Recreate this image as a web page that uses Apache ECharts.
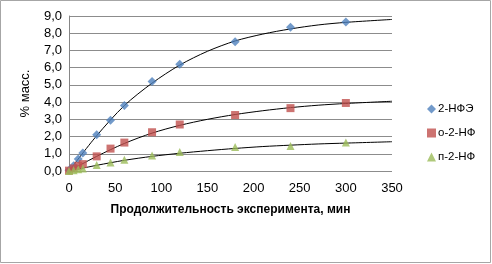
<!DOCTYPE html>
<html><head><meta charset="utf-8">
<script src="https://cdn.jsdelivr.net/npm/echarts@6/dist/echarts.min.js"></script>
<style>html,body{margin:0;padding:0;background:#fff}#c{width:492px;height:264px}</style>
</head><body><div id="c"></div>
<script>
const times = [0, 5, 10, 15, 30, 45, 60, 90, 120, 180, 240, 300];
const nfe = [0.05, 0.3, 0.7, 1.05, 2.1, 2.95, 3.8, 5.2, 6.2, 7.5, 8.35, 8.65];
const o2nf = [0.02, 0.15, 0.3, 0.4, 0.85, 1.3, 1.65, 2.25, 2.7, 3.25, 3.65, 3.95];
const p2nf = [0.0, 0.05, 0.1, 0.15, 0.35, 0.5, 0.65, 0.9, 1.1, 1.4, 1.45, 1.65];
const trendTimes = [0, 30, 60, 90, 120, 150, 180, 210, 240, 270, 300, 350];
const nfeTrend = [0.0, 2.05, 3.8, 5.1, 6.15, 6.95, 7.55, 7.95, 8.25, 8.48, 8.63, 8.8];
const o2nfTrend = [0.0, 0.85, 1.6, 2.2, 2.65, 3.0, 3.28, 3.5, 3.68, 3.82, 3.92, 4.05];
const p2nfTrend = [0.0, 0.33, 0.62, 0.85, 1.03, 1.18, 1.31, 1.42, 1.5, 1.57, 1.62, 1.7];
const names = ['2-НФЭ', 'о-2-НФ', 'п-2-НФ'];
const colors = ['#4F81BD', '#C0504D', '#9BBB59'];

const zip = (xs, ys) => xs.map((x, i) => [x, ys[i]]);
const font = 'Liberation Sans';
const chart = echarts.init(document.getElementById('c'));
const trendStyle = {type: 'line', smooth: 0.3, symbol: 'none', lineStyle: {color: '#000', width: 1}, silent: true, z: 1};
chart.setOption({
  animation: false,
  textStyle: {fontFamily: font},
  graphic: [{type: 'rect', shape: {x: 0.5, y: 0.5, width: 490, height: 262}, style: {fill: 'none', stroke: '#a6a6a6', lineWidth: 1}}],
  grid: {left: 69, right: 100, top: 16, bottom: 93},
  legend: {
    orient: 'vertical', left: 422, top: 98, itemGap: 12, itemWidth: 9, itemHeight: 9,
    data: names.map((n, i) => ({name: n, icon: ['diamond', 'rect', 'triangle'][i]})),
    textStyle: {fontSize: 11.5, color: '#000', fontFamily: font, padding: [0, 0, 0, -3]}
  },
  xAxis: {
    type: 'value', min: 0, max: 350, interval: 50,
    name: 'Продолжительность эксперимента, мин', nameLocation: 'middle', nameGap: 33,
    nameTextStyle: {fontWeight: 'bold', fontSize: 12, color: '#000', fontFamily: font},
    axisLine: {show: false}, axisTick: {show: false}, splitLine: {show: false},
    axisLabel: {fontSize: 13, color: '#000', margin: 11}
  },
  yAxis: {
    type: 'value', min: 0, max: 9, interval: 1,
    name: '% масс.', nameLocation: 'middle', nameGap: 37,
    nameTextStyle: {fontSize: 13, color: '#000', fontFamily: font},
    axisLine: {show: true, lineStyle: {color: '#868686'}}, axisTick: {show: false},
    splitLine: {lineStyle: {color: '#8c8c8c', width: 1}},
    axisLabel: {fontSize: 13, color: '#000', margin: 7, formatter: v => v.toFixed(1).replace('.', ',')}
  },
  series: [
    Object.assign({data: zip(trendTimes, nfeTrend)}, trendStyle),
    Object.assign({data: zip(trendTimes, o2nfTrend)}, trendStyle),
    Object.assign({data: zip(trendTimes, p2nfTrend)}, trendStyle),
    {name: names[0], type: 'scatter', symbol: 'diamond', symbolSize: 9, data: zip(times, nfe), itemStyle: {color: colors[0]}, z: 3},
    {name: names[1], type: 'scatter', symbol: 'rect', symbolSize: 8, data: zip(times, o2nf), itemStyle: {color: colors[1]}, z: 3},
    {name: names[2], type: 'scatter', symbol: 'triangle', symbolSize: 8, data: zip(times, p2nf), itemStyle: {color: colors[2]}, z: 3}
  ]
});
</script></body></html>
